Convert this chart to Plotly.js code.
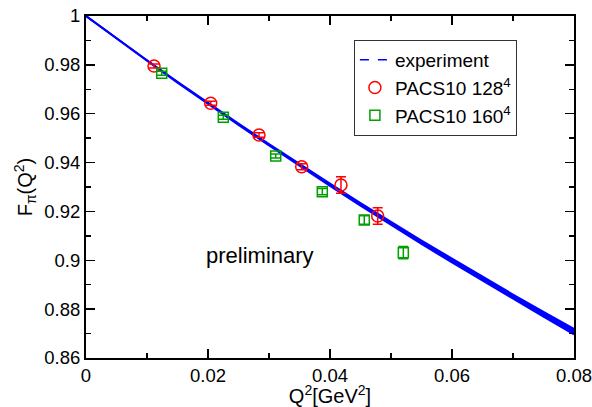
<!DOCTYPE html>
<html>
<head>
<meta charset="utf-8">
<script src="https://cdn.plot.ly/plotly-3.0.1.min.js"></script>
<style>html,body{margin:0;padding:0;background:#fff}#chart{width:592px;height:407px}</style>
</head>
<body>
<div id="chart"></div>
<script>
// Experiment band
const expQ2 = [0,0.005,0.01,0.015,0.02,0.025,0.03,0.035,0.04,0.045,0.05,0.055,0.06,0.065,0.07,0.075,0.08];
const expF  = [1,0.9908,0.9818,0.9729,0.9642,0.9557,0.9473,0.9390,0.9309,0.9229,0.9151,0.9074,0.8999,0.8924,0.8851,0.8779,0.8708];
const expHalf = [0,0.00005,0.0001,0.00015,0.0002,0.00025,0.0003,0.0004,0.0005,0.0005,0.0006,0.0007,0.0008,0.0008,0.0009,0.0010,0.0011];

// PACS10 128^4
const q2_128 = [0.01115,0.02044,0.02836,0.03536,0.0418,0.04782];
const f_128  = [0.97953,0.96426,0.95129,0.93831,0.93082,0.91813];
const e_128  = [0.0008,0.0008,0.0009,0.0012,0.0034,0.0034];

// PACS10 160^4
const q2_160 = [0.01241,0.02251,0.0311,0.03874,0.04562,0.05202];
const f_160  = [0.97654,0.95853,0.94269,0.92808,0.91649,0.90311];
const e_160  = [0.0008,0.0008,0.0008,0.0013,0.0017,0.0025];

const upper = expF.map((v,i)=>v+expHalf[i]);
const lower = expF.map((v,i)=>v-expHalf[i]);

const blue = '#0000ff', red = '#ff0000', green = '#00a000';
const FONT = 'Liberation Sans, Arial, sans-serif';

const traces = [
  {x: expQ2, y: lower, mode:'lines', line:{color:blue,width:2}, showlegend:false, hoverinfo:'skip'},
  {x: expQ2, y: upper, mode:'lines', line:{color:blue,width:2}, fill:'tonexty', fillcolor:blue, showlegend:false, hoverinfo:'skip'},
  {x: expQ2, y: expF, mode:'lines', name:'experiment', line:{color:blue,width:1.5,dash:'dash'}},
  {x: q2_128, y: f_128, mode:'markers', name:'PACS10 128<sup>4</sup>',
   marker:{symbol:'circle-open', size:12, color:red, line:{width:1.5,color:red}},
   error_y:{type:'data', array:e_128, visible:true, color:red, thickness:1.5, width:5}},
  {x: q2_160, y: f_160, mode:'markers', name:'PACS10 160<sup>4</sup>',
   marker:{symbol:'square-open', size:10, color:green, line:{width:1.5,color:green}},
   error_y:{type:'data', array:e_160, visible:true, color:green, thickness:1.5, width:5}}
];

const axisCommon = {
  showgrid:false, zeroline:false, showline:true, linecolor:'#000', linewidth:2,
  ticks:'inside', ticklen:9, tickwidth:1.5, tickcolor:'#000', mirror:'allticks',
  ticklabeloverflow:'allow',
  tickfont:{family:FONT, size:18.5, color:'#000'}
};

const layout = {
  width:592, height:407,
  margin:{l:86, r:18, t:16, b:49},
  paper_bgcolor:'#fff', plot_bgcolor:'#fff',
  font:{family:FONT, color:'#000'},
  xaxis: Object.assign({}, axisCommon, {
    range:[0,0.08], dtick:0.02, tick0:0,
    minor:{ticks:'inside', ticklen:5, dtick:0.01, tickcolor:'#000', tickwidth:1.5},
    title:{text:'Q<sup>2</sup>[GeV<sup>2</sup>]', font:{family:FONT,size:20,color:'#000'}, standoff:2}
  }),
  yaxis: Object.assign({}, axisCommon, {
    range:[0.86,1], dtick:0.02, tick0:0.86,
    minor:{ticks:'inside', ticklen:5, dtick:0.01, tickcolor:'#000', tickwidth:1.5},
    title:{text:'F<sub>π</sub>(Q<sup>2</sup>)', font:{family:FONT,size:20,color:'#000'}, standoff:6}
  }),
  legend:{x:0.549, y:0.93, xanchor:'left', yanchor:'top', bordercolor:'#333', borderwidth:1,
    traceorder:'normal', bgcolor:'#fff', font:{family:FONT, size:19, color:'#000'}, tracegroupgap:0},
  annotations:[{x:0.357, y:0.257, xref:'paper', yref:'paper', text:'preliminary', showarrow:false,
    font:{family:FONT, size:22, color:'#000'}}]
};

Plotly.newPlot('chart', traces, layout, {displayModeBar:false, staticPlot:true});
</script>
</body>
</html>
